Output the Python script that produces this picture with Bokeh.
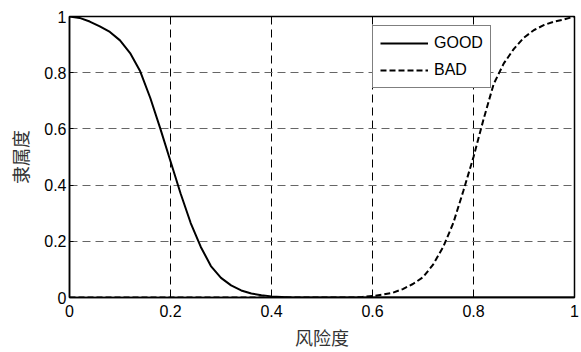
from bokeh.plotting import figure
from bokeh.models import Range1d, FixedTicker, Legend, LegendItem
from bokeh.embed import file_html
from bokeh.resources import INLINE

# ---- data ----
x_vals = [0.00, 0.02, 0.04, 0.06, 0.08, 0.10, 0.12, 0.14, 0.16, 0.18,
          0.20, 0.22, 0.24, 0.26, 0.28, 0.30, 0.32, 0.34, 0.36, 0.38,
          0.40, 0.42, 0.44, 0.46, 0.48, 0.50, 0.52, 0.54, 0.56, 0.58,
          0.60, 0.62, 0.64, 0.66, 0.68, 0.70, 0.72, 0.74, 0.76, 0.78,
          0.80, 0.82, 0.84, 0.86, 0.88, 0.90, 0.92, 0.94, 0.96, 0.98, 1.00]
good_vals = [1.000, 0.995, 0.982, 0.965, 0.945, 0.915, 0.870, 0.805, 0.710, 0.600,
             0.485, 0.370, 0.265, 0.180, 0.112, 0.070, 0.043, 0.025, 0.014, 0.008,
             0.004, 0.002, 0.000, 0.000, 0.000, 0.000, 0.000, 0.000, 0.000, 0.000,
             0.000, 0.000, 0.000, 0.000, 0.000, 0.000, 0.000, 0.000, 0.000, 0.000,
             0.000, 0.000, 0.000, 0.000, 0.000, 0.000, 0.000, 0.000, 0.000, 0.000, 0.000]
bad_vals = [0.000, 0.000, 0.000, 0.000, 0.000, 0.000, 0.000, 0.000, 0.000, 0.000,
            0.000, 0.000, 0.000, 0.000, 0.000, 0.000, 0.000, 0.000, 0.000, 0.000,
            0.000, 0.000, 0.000, 0.000, 0.000, 0.000, 0.000, 0.000, 0.000, 0.002,
            0.005, 0.010, 0.017, 0.030, 0.048, 0.072, 0.117, 0.180, 0.265, 0.380,
            0.500, 0.635, 0.760, 0.833, 0.885, 0.925, 0.952, 0.970, 0.982, 0.990, 1.000]
series_names = ["GOOD", "BAD"]
tick_vals = [0, 0.2, 0.4, 0.6, 0.8, 1]
tick_labels = ["0", "0.2", "0.4", "0.6", "0.8", "1"]
x_label = "风险度"
y_label = "隶属度"

p = figure(width=581, height=352, output_backend="svg", toolbar_location=None,
           x_range=Range1d(0, 1), y_range=Range1d(0, 1),
           min_border_left=69, min_border_right=7, min_border_top=16, min_border_bottom=51)
p.background_fill_color = "white"
p.border_fill_color = "white"
p.outline_line_color = "black"
p.outline_line_width = 1.5

r_good = p.line(x_vals, good_vals, line_color="black", line_width=2)
r_bad = p.line(x_vals, bad_vals, line_color="black", line_width=2, line_dash="6 3")

for ax in (p.xaxis[0], p.yaxis[0]):
    ax.ticker = FixedTicker(ticks=tick_vals)
    ax.major_label_overrides = {v: s for v, s in zip(tick_vals, tick_labels)}
    ax.major_label_text_font = "Liberation Sans"
    ax.major_label_text_font_size = "16px"
    ax.major_label_text_color = "black"
    ax.axis_line_color = "black"
    ax.axis_line_width = 1.5
    ax.major_tick_in = 4
    ax.major_tick_out = 0
    ax.major_tick_line_color = "black"
    ax.minor_tick_line_color = None
    ax.axis_label_text_font = "Noto Sans CJK SC"
    ax.axis_label_text_font_size = "18px"
    ax.axis_label_text_font_style = "normal"
    ax.axis_label_text_color = "#333333"

p.xaxis.axis_label = x_label
p.yaxis.axis_label = y_label
p.xaxis.major_label_standoff = 7
p.xaxis.axis_label_standoff = 4
p.yaxis.major_label_standoff = 3
p.yaxis.axis_label_standoff = 8

p.xgrid.grid_line_color = "black"
p.xgrid.grid_line_dash = "8 5"
p.xgrid.grid_line_width = 1
p.ygrid.grid_line_color = "#666666"
p.ygrid.grid_line_dash = "8 5"
p.ygrid.grid_line_width = 1

legend = Legend(items=[LegendItem(label=series_names[0], renderers=[r_good]),
                       LegendItem(label=series_names[1], renderers=[r_bad])],
                location=(303, 209))
legend.border_line_color = "black"
legend.border_line_width = 1.5
legend.background_fill_color = "white"
legend.background_fill_alpha = 1
legend.label_text_font = "Liberation Sans"
legend.label_text_font_size = "16px"
legend.label_text_color = "black"
legend.glyph_width = 48
legend.glyph_height = 20
legend.label_standoff = 6
legend.padding = 7
legend.spacing = 7
legend.margin = 0
p.add_layout(legend, "center")

open("out.html", "w").write(file_html(p, INLINE))
